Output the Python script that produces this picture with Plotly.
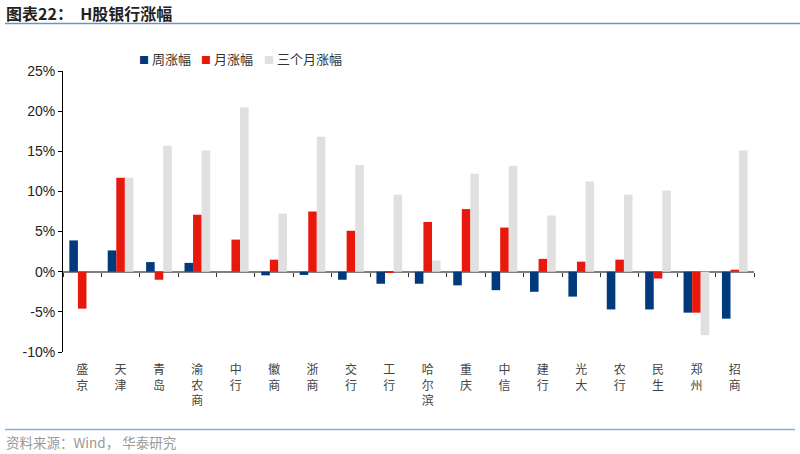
import plotly.graph_objects as go

banks = ["盛京", "天津", "青岛", "渝农商", "中行", "徽商", "浙商", "交行", "工行",
         "哈尔滨", "重庆", "中信", "建行", "光大", "农行", "民生", "郑州", "招商"]
weekly = [3.9, 2.65, 1.2, 1.1, 0.0, -0.45, -0.4, -1.0, -1.5, -1.5, -1.7, -2.3,
          -2.5, -3.1, -4.7, -4.7, -5.1, -5.85]
monthly = [-4.6, 11.7, -1.0, 7.1, 4.0, 1.5, 7.5, 5.1, -0.15, 6.2, 7.8, 5.5,
           1.6, 1.25, 1.5, -0.85, -5.1, 0.25]
three_month = [0.0, 11.7, 15.7, 15.1, 20.45, 7.25, 16.8, 13.3, 9.6, 1.4, 12.2, 13.2,
               7.0, 11.25, 9.6, 10.1, -7.9, 15.1]
series_names = ["周涨幅", "月涨幅", "三个月涨幅"]
colors = ["#003a7d", "#e8180c", "#e0e0e0"]
y_ticks = [-10, -5, 0, 5, 10, 15, 20, 25]

idx = list(range(len(banks)))
vlabels = ["<br>".join(list(b)) for b in banks]

fig = go.Figure()
for name, vals, c in zip(series_names, [weekly, monthly, three_month], colors):
    fig.add_trace(go.Bar(x=idx, y=vals, name=name, marker=dict(color=c, line=dict(width=0)),
                         showlegend=False))

# invisible trace on second x axis to carry boundary ticks at zero line
fig.add_trace(go.Scatter(x=[-0.5, 17.5], y=[0, 0], xaxis="x2", mode="lines",
                         line=dict(width=0), showlegend=False, hoverinfo="skip"))

font_main = "Liberation Sans, Arial, Noto Sans CJK SC"
fig.update_layout(
    width=800, height=454,
    paper_bgcolor="white", plot_bgcolor="white",
    margin=dict(l=63, r=46, t=71, b=102, autoexpand=False),
    barmode="group", bargap=0.33, bargroupgap=0,
    font=dict(family=font_main, size=13, color="#222"),
    showlegend=False,
    xaxis=dict(range=[-0.5, 17.5], tickmode="array", tickvals=idx, ticktext=vlabels,
               showline=False, ticks="", showgrid=False, zeroline=False, automargin=False,
               ticklabelstandoff=9,
               tickfont=dict(family="Noto Sans CJK SC", size=12, color="#444")),
    xaxis2=dict(overlaying="x", anchor="free", position=10/35, range=[-0.5, 17.5],
                tickmode="array", tickvals=[i - 0.5 for i in range(len(banks) + 1)],
                ticks="outside", ticklen=4, tickcolor="#333", tickwidth=1,
                showticklabels=False, showline=False, showgrid=False, zeroline=False),
    yaxis=dict(range=[-10, 25], tickmode="array", tickvals=y_ticks,
               ticktext=[f"{v}%" for v in y_ticks], automargin=False,
               showline=True, linecolor="#000", linewidth=1,
               ticks="outside", ticklen=4, tickcolor="#000",
               showgrid=False, zeroline=True, zerolinecolor="#808080", zerolinewidth=2,
               tickfont=dict(family="Liberation Sans, Arial", size=14, color="#222")),
)

def px_x(px):
    return (px - 63) / 691

def px_y(py):
    return (352 - py) / 281

# legend built as text with coloured squares
legend_x = [137, 199, 262]
for name, c, lx in zip(series_names, colors, legend_x):
    fig.add_annotation(text=f"<span style='color:{c};font-size:10px'>■</span> {name}",
                       xref="paper", yref="paper", x=px_x(lx), y=px_y(59),
                       xanchor="left", yanchor="middle", showarrow=False,
                       font=dict(family="Noto Sans CJK SC", size=13, color="#333"))

fig.add_annotation(text="<b>图表22：  H股银行涨幅</b>", xref="paper", yref="paper",
                   x=px_x(4), y=px_y(13), xanchor="left", yanchor="middle",
                   showarrow=False, font=dict(family="Noto Sans CJK SC", size=16, color="#222"))
fig.add_annotation(text="资料来源：Wind， 华泰研究", xref="paper", yref="paper",
                   x=px_x(4), y=px_y(441.5), xanchor="left", yanchor="middle",
                   showarrow=False, font=dict(family="Noto Sans CJK SC", size=13.5, color="#999"))
fig.add_shape(type="line", xref="paper", yref="paper",
              x0=px_x(5), x1=px_x(800), y0=px_y(23.5), y1=px_y(23.5),
              line=dict(color="#6f93bb", width=1.5))
fig.add_shape(type="line", xref="paper", yref="paper",
              x0=px_x(5), x1=px_x(795), y0=px_y(429.5), y1=px_y(429.5),
              line=dict(color="#8fb0d4", width=1.5))

fig.write_html("out.html", config={"displayModeBar": False},
               post_script="document.body.style.margin='0px';document.body.style.padding='0px';")
